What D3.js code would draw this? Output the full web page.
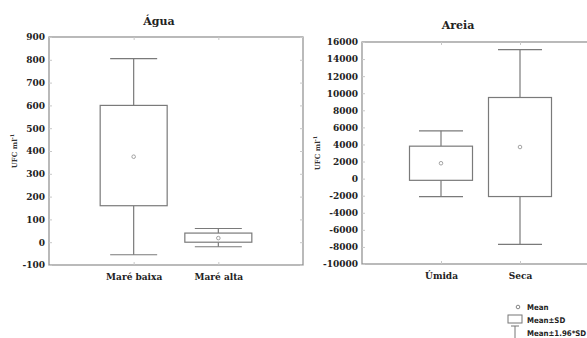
<!DOCTYPE html>
<html>
<head>
<meta charset="utf-8">
<script src="https://cdn.jsdelivr.net/npm/d3@7"></script>
<style>
  body { margin: 0; background: #fff; }
  svg { display: block; }
</style>
</head>
<body>
<div id="chart"></div>
<script>
// ---- data ----
const aguaGroups = ["Maré baixa", "Maré alta"];
const aguaMean = [375, 18];
const aguaSdLow = [160, 0];
const aguaSdHigh = [600, 40];
const aguaCiLow = [-55, -20];
const aguaCiHigh = [805, 60];
const aguaTicks = [-100, 0, 100, 200, 300, 400, 500, 600, 700, 800, 900];

const areiaGroups = ["Úmida", "Seca"];
const areiaMean = [1800, 3700];
const areiaSdLow = [-200, -2100];
const areiaSdHigh = [3800, 9500];
const areiaCiLow = [-2100, -7700];
const areiaCiHigh = [5600, 15100];
const areiaTicks = [-10000, -8000, -6000, -4000, -2000, 0, 2000, 4000, 6000, 8000, 10000, 12000, 14000, 16000];

const legendLabels = ["Mean", "Mean±SD", "Mean±1.96*SD"];

const width = 587;
const height = 338;
const lineColor = "#7a7a7a";
const frameColor = "#8c8c8c";
const tickFont = "DejaVu Serif, serif";

const svg = d3.select("#chart")
  .append("svg")
  .attr("width", width)
  .attr("height", height);

function panel(opts) {
  const { left, top, w, h, groups, mean, sdLow, sdHigh, ciLow, ciHigh, ticks, title, titleX, titleY, labelX, boxW, capW } = opts;

  const x = d3.scalePoint().domain(groups).range([left, left + w]).padding(1);
  const y = d3.scaleLinear().domain(d3.extent(ticks)).range([top + h, top]);

  const g = svg.append("g");

  // frame
  g.append("rect")
    .attr("x", left).attr("y", top)
    .attr("width", w).attr("height", h)
    .attr("fill", "none")
    .attr("stroke", frameColor)
    .attr("stroke-width", 1.2);

  // y axis labels (left) + inner ticks on both sides
  const yAxis = g.append("g")
    .attr("transform", `translate(${left},0)`)
    .call(d3.axisLeft(y).tickValues(ticks).tickSize(-3).tickPadding(4).tickFormat((d) => String(d)));
  yAxis.select(".domain").remove();
  yAxis.selectAll("line").attr("stroke", "#c8c8c8");
  yAxis.selectAll("text")
    .attr("font-family", tickFont)
    .attr("font-weight", "bold")
    .attr("font-size", "9px")
    .attr("fill", "#222");

  const yRight = g.append("g")
    .attr("transform", `translate(${left + w},0)`)
    .call(d3.axisRight(y).tickValues(ticks).tickSize(-3).tickFormat(""));
  yRight.select(".domain").remove();
  yRight.selectAll("line").attr("stroke", "#c8c8c8");

  // x axis labels + ticks
  const xAxis = g.append("g")
    .attr("transform", `translate(0,${top + h})`)
    .call(d3.axisBottom(x).tickSize(-3).tickPadding(9));
  xAxis.select(".domain").remove();
  xAxis.selectAll("line").attr("stroke", "#c8c8c8");
  xAxis.selectAll("text")
    .attr("font-family", tickFont)
    .attr("font-weight", "bold")
    .attr("font-size", "9px")
    .attr("fill", "#222");

  const xTop = g.append("g")
    .attr("transform", `translate(0,${top})`)
    .call(d3.axisTop(x).tickSize(-3).tickFormat(""));
  xTop.select(".domain").remove();
  xTop.selectAll("line").attr("stroke", "#c8c8c8");

  // title
  g.append("text")
    .attr("x", titleX).attr("y", titleY)
    .attr("text-anchor", "middle")
    .attr("font-family", tickFont)
    .attr("font-weight", "bold")
    .attr("font-size", "11px")
    .attr("fill", "#222")
    .text(title);

  // y label
  const yl = g.append("text")
    .attr("transform", `translate(${labelX},${top + h / 2}) rotate(-90)`)
    .attr("text-anchor", "middle")
    .attr("font-family", tickFont)
    .attr("font-weight", "bold")
    .attr("font-size", "7px")
    .attr("fill", "#333");
  yl.append("tspan").text("UFC ml");
  yl.append("tspan").attr("dy", -3).attr("font-size", "5px").text("-1");

  const data = groups.map((k, i) => ({
    k, mean: mean[i], sdLow: sdLow[i], sdHigh: sdHigh[i], ciLow: ciLow[i], ciHigh: ciHigh[i]
  }));

  const b = g.selectAll("g.box").data(data).join("g").attr("class", "box");

  // whisker stems
  b.append("line")
    .attr("x1", (d) => x(d.k)).attr("x2", (d) => x(d.k))
    .attr("y1", (d) => y(d.ciHigh)).attr("y2", (d) => y(d.sdHigh))
    .attr("stroke", lineColor).attr("stroke-width", 1.2);
  b.append("line")
    .attr("x1", (d) => x(d.k)).attr("x2", (d) => x(d.k))
    .attr("y1", (d) => y(d.sdLow)).attr("y2", (d) => y(d.ciLow))
    .attr("stroke", lineColor).attr("stroke-width", 1.2);
  // caps
  b.append("line")
    .attr("x1", (d) => x(d.k) - capW / 2).attr("x2", (d) => x(d.k) + capW / 2)
    .attr("y1", (d) => y(d.ciHigh)).attr("y2", (d) => y(d.ciHigh))
    .attr("stroke", lineColor).attr("stroke-width", 1.2);
  b.append("line")
    .attr("x1", (d) => x(d.k) - capW / 2).attr("x2", (d) => x(d.k) + capW / 2)
    .attr("y1", (d) => y(d.ciLow)).attr("y2", (d) => y(d.ciLow))
    .attr("stroke", lineColor).attr("stroke-width", 1.2);
  // box
  b.append("rect")
    .attr("x", (d) => x(d.k) - boxW / 2)
    .attr("width", boxW)
    .attr("y", (d) => y(d.sdHigh))
    .attr("height", (d) => y(d.sdLow) - y(d.sdHigh))
    .attr("fill", "#fff")
    .attr("stroke", lineColor).attr("stroke-width", 1.2);
  // mean
  b.append("circle")
    .attr("cx", (d) => x(d.k)).attr("cy", (d) => y(d.mean))
    .attr("r", 1.8)
    .attr("fill", "none")
    .attr("stroke", "#999").attr("stroke-width", 0.9);
}

panel({
  left: 49, top: 37, w: 254, h: 228,
  groups: aguaGroups, mean: aguaMean, sdLow: aguaSdLow, sdHigh: aguaSdHigh,
  ciLow: aguaCiLow, ciHigh: aguaCiHigh, ticks: aguaTicks,
  title: "Água", titleX: 159, titleY: 25, labelX: 17, boxW: 67, capW: 47
});

panel({
  left: 362, top: 42, w: 237, h: 222,
  groups: areiaGroups, mean: areiaMean, sdLow: areiaSdLow, sdHigh: areiaSdHigh,
  ciLow: areiaCiLow, ciHigh: areiaCiHigh, ticks: areiaTicks,
  title: "Areia", titleX: 458, titleY: 29, labelX: 320, boxW: 63, capW: 44
});

// ---- legend ----
const legend = svg.append("g").attr("transform", "translate(515, 307)");
const legendFont = "DejaVu Sans Condensed, DejaVu Sans, sans-serif";

legend.append("circle")
  .attr("cx", 3).attr("cy", 0).attr("r", 1.8)
  .attr("fill", "none").attr("stroke", "#777").attr("stroke-width", 0.9);
legend.append("rect")
  .attr("x", -7).attr("y", 8).attr("width", 14).attr("height", 8)
  .attr("fill", "none").attr("stroke", "#777").attr("stroke-width", 1);
legend.append("line")
  .attr("x1", -4).attr("x2", 4).attr("y1", 19).attr("y2", 19)
  .attr("stroke", "#777").attr("stroke-width", 1);
legend.append("line")
  .attr("x1", 0).attr("x2", 0).attr("y1", 19).attr("y2", 31)
  .attr("stroke", "#777").attr("stroke-width", 1);

legend.selectAll("text.lab")
  .data(legendLabels)
  .join("text")
  .attr("class", "lab")
  .attr("x", 12)
  .attr("y", (d, i) => 3 + i * 13)
  .attr("font-family", legendFont)
  .attr("font-weight", "bold")
  .attr("font-size", "7.8px")
  .attr("fill", "#222")
  .text((d) => d);
</script>
</body>
</html>
